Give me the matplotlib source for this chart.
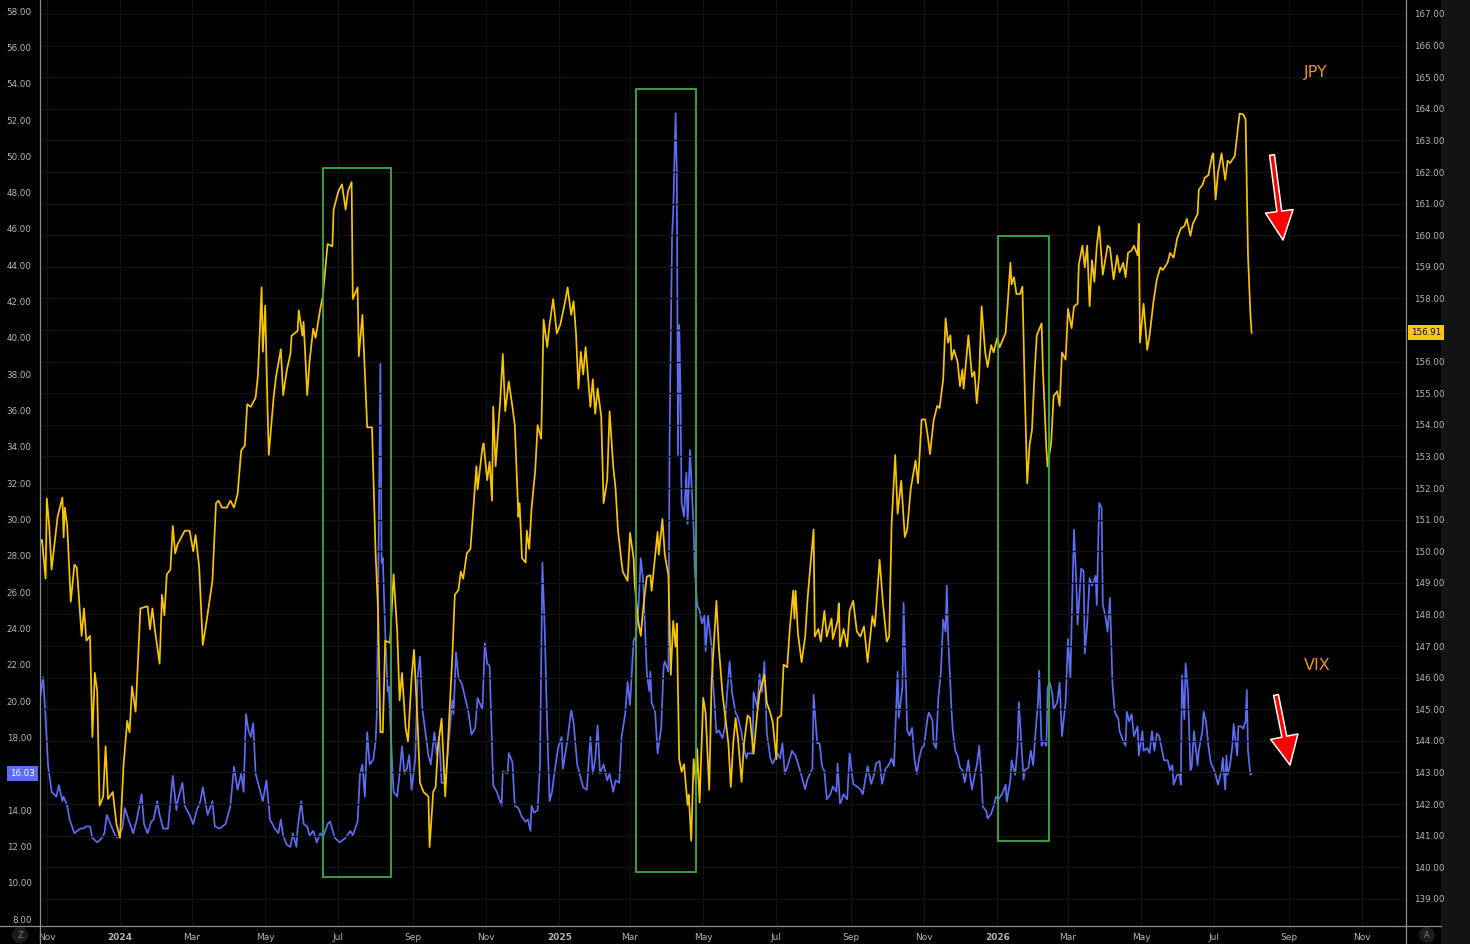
import matplotlib
matplotlib.use("Agg")
import matplotlib.pyplot as plt
import matplotlib.dates as mdates
from matplotlib.patches import Rectangle, FancyArrowPatch, Circle
from matplotlib.lines import Line2D
import numpy as np
import pandas as pd

# ---- USD/JPY (right axis) ----
jpy_dates = [
    "2023-10-26", "2023-10-28", "2023-10-31", "2023-11-01", "2023-11-03", "2023-11-05", "2023-11-10", "2023-11-14",
    "2023-11-15", "2023-11-16", "2023-11-18", "2023-11-21", "2023-11-24", "2023-11-26", "2023-11-30", "2023-12-02",
    "2023-12-04", "2023-12-07", "2023-12-09", "2023-12-11", "2023-12-13", "2023-12-15", "2023-12-18", "2023-12-20",
    "2023-12-22", "2023-12-26", "2023-12-29", "2024-01-01", "2024-01-04", "2024-01-07", "2024-01-09", "2024-01-11",
    "2024-01-14", "2024-01-18", "2024-01-24", "2024-01-26", "2024-01-28", "2024-01-30", "2024-02-03", "2024-02-05",
    "2024-02-07", "2024-02-09", "2024-02-12", "2024-02-14", "2024-02-16", "2024-02-18", "2024-02-24", "2024-02-28",
    "2024-03-02", "2024-03-04", "2024-03-07", "2024-03-10", "2024-03-13", "2024-03-18", "2024-03-21", "2024-03-23",
    "2024-03-26", "2024-03-30", "2024-04-02", "2024-04-05", "2024-04-08", "2024-04-11", "2024-04-14", "2024-04-16",
    "2024-04-19", "2024-04-23", "2024-04-25", "2024-04-28", "2024-04-29", "2024-05-01", "2024-05-03", "2024-05-04",
    "2024-05-08", "2024-05-10", "2024-05-14", "2024-05-16", "2024-05-19", "2024-05-22", "2024-05-23", "2024-05-28",
    "2024-05-29", "2024-06-01", "2024-06-02", "2024-06-05", "2024-06-07", "2024-06-10", "2024-06-12", "2024-06-16",
    "2024-06-18", "2024-06-22", "2024-06-26", "2024-06-27", "2024-07-01", "2024-07-04", "2024-07-07", "2024-07-09",
    "2024-07-12", "2024-07-13", "2024-07-17", "2024-07-18", "2024-07-21", "2024-07-25", "2024-07-29", "2024-08-01",
    "2024-08-03", "2024-08-05", "2024-08-07", "2024-08-09", "2024-08-13", "2024-08-16", "2024-08-19", "2024-08-21",
    "2024-08-23", "2024-08-26", "2024-08-28", "2024-08-31", "2024-09-02", "2024-09-05", "2024-09-07", "2024-09-10",
    "2024-09-14", "2024-09-15", "2024-09-18", "2024-09-20", "2024-09-22", "2024-09-25", "2024-09-28", "2024-09-30",
    "2024-10-04", "2024-10-06", "2024-10-09", "2024-10-11", "2024-10-13", "2024-10-16", "2024-10-19", "2024-10-21",
    "2024-10-24", "2024-10-25", "2024-10-29", "2024-10-30", "2024-11-02", "2024-11-04", "2024-11-06", "2024-11-07",
    "2024-11-09", "2024-11-13", "2024-11-15", "2024-11-17", "2024-11-20", "2024-11-23", "2024-11-25", "2024-11-28",
    "2024-11-29", "2024-12-01", "2024-12-04", "2024-12-05", "2024-12-07", "2024-12-09", "2024-12-12", "2024-12-14",
    "2024-12-17", "2024-12-19", "2024-12-22", "2024-12-24", "2024-12-27", "2024-12-30", "2025-01-02", "2025-01-06",
    "2025-01-08", "2025-01-11", "2025-01-13", "2025-01-15", "2025-01-17", "2025-01-19", "2025-01-21", "2025-01-23",
    "2025-01-27", "2025-01-29", "2025-01-31", "2025-02-02", "2025-02-05", "2025-02-07", "2025-02-10", "2025-02-12",
    "2025-02-15", "2025-02-17", "2025-02-19", "2025-02-22", "2025-02-23", "2025-02-27", "2025-03-01", "2025-03-04",
    "2025-03-05", "2025-03-08", "2025-03-10", "2025-03-12", "2025-03-15", "2025-03-18", "2025-03-19", "2025-03-24",
    "2025-03-25", "2025-03-28", "2025-03-30", "2025-04-02", "2025-04-04", "2025-04-06", "2025-04-08", "2025-04-09",
    "2025-04-11", "2025-04-13", "2025-04-15", "2025-04-18", "2025-04-19", "2025-04-21", "2025-04-23", "2025-04-25",
    "2025-04-26", "2025-04-28", "2025-05-01", "2025-05-03", "2025-05-06", "2025-05-08", "2025-05-12", "2025-05-14",
    "2025-05-17", "2025-05-19", "2025-05-22", "2025-05-24", "2025-05-26", "2025-05-28", "2025-05-30", "2025-06-02",
    "2025-06-04", "2025-06-07", "2025-06-09", "2025-06-12", "2025-06-15", "2025-06-17", "2025-06-21", "2025-06-23",
    "2025-06-26", "2025-06-28", "2025-07-01", "2025-07-02", "2025-07-05", "2025-07-07", "2025-07-10", "2025-07-12",
    "2025-07-15", "2025-07-16", "2025-07-17", "2025-07-19", "2025-07-22", "2025-07-25", "2025-07-27", "2025-07-29",
    "2025-08-01", "2025-08-02", "2025-08-05", "2025-08-07", "2025-08-10", "2025-08-12", "2025-08-16", "2025-08-17",
    "2025-08-21", "2025-08-22", "2025-08-23", "2025-08-26", "2025-08-29", "2025-08-31", "2025-09-03", "2025-09-06",
    "2025-09-09", "2025-09-12", "2025-09-15", "2025-09-19", "2025-09-21", "2025-09-25", "2025-09-28", "2025-10-01",
    "2025-10-03", "2025-10-05", "2025-10-08", "2025-10-10", "2025-10-13", "2025-10-16", "2025-10-18", "2025-10-21",
    "2025-10-25", "2025-10-27", "2025-10-30", "2025-11-02", "2025-11-04", "2025-11-06", "2025-11-09", "2025-11-12",
    "2025-11-14", "2025-11-17", "2025-11-19", "2025-11-21", "2025-11-23", "2025-11-24", "2025-11-26", "2025-11-29",
    "2025-12-01", "2025-12-03", "2025-12-04", "2025-12-08", "2025-12-11", "2025-12-13", "2025-12-15", "2025-12-17",
    "2025-12-19", "2025-12-22", "2025-12-24", "2025-12-27", "2025-12-29", "2026-01-01", "2026-01-03", "2026-01-08",
    "2026-01-10", "2026-01-12", "2026-01-13", "2026-01-15", "2026-01-17", "2026-01-20", "2026-01-22", "2026-01-24",
    "2026-01-26", "2026-01-28", "2026-01-30", "2026-02-01", "2026-02-03", "2026-02-07", "2026-02-08", "2026-02-11",
    "2026-02-12", "2026-02-15", "2026-02-17", "2026-02-20", "2026-02-22", "2026-02-24", "2026-02-27", "2026-03-01",
    "2026-03-04", "2026-03-06", "2026-03-09", "2026-03-10", "2026-03-13", "2026-03-15", "2026-03-17", "2026-03-19",
    "2026-03-21", "2026-03-23", "2026-03-25", "2026-03-27", "2026-03-30", "2026-04-03", "2026-04-05", "2026-04-08",
    "2026-04-11", "2026-04-13", "2026-04-16", "2026-04-18", "2026-04-20", "2026-04-23", "2026-04-25", "2026-04-28",
    "2026-04-29", "2026-04-30", "2026-05-03", "2026-05-06", "2026-05-08", "2026-05-11", "2026-05-14", "2026-05-17",
    "2026-05-19", "2026-05-23", "2026-05-25", "2026-05-28", "2026-05-31", "2026-06-03", "2026-06-06", "2026-06-08",
    "2026-06-11", "2026-06-13", "2026-06-17", "2026-06-18", "2026-06-21", "2026-06-23", "2026-06-26", "2026-06-29",
    "2026-06-30", "2026-07-02", "2026-07-04", "2026-07-07", "2026-07-10", "2026-07-12", "2026-07-14", "2026-07-18",
    "2026-07-21", "2026-07-22", "2026-07-25", "2026-07-27", "2026-07-29", "2026-07-31", "2026-08-01",
]
jpy_vals = [
    150.22, 150.36, 149.13, 151.67, 150.80, 149.42, 151.09, 151.70,
    150.44, 151.38, 150.80, 148.40, 149.57, 149.49, 147.32, 148.19,
    147.17, 147.32, 144.12, 146.15, 145.57, 141.95, 142.24, 143.83,
    142.16, 142.38, 141.37, 140.93, 143.25, 144.63, 144.27, 145.72,
    144.92, 148.19, 148.26, 147.53, 148.19, 147.53, 146.44, 148.62,
    147.97, 149.27, 149.42, 150.80, 149.93, 150.22, 150.65, 150.65,
    150.00, 150.51, 149.49, 147.03, 147.75, 149.06, 151.52, 151.60,
    151.38, 151.38, 151.60, 151.38, 151.81, 153.19, 153.34, 154.65,
    154.57, 154.86, 155.59, 158.35, 156.31, 157.77, 154.43, 153.05,
    154.86, 155.52, 156.39, 154.94, 155.73, 156.24, 156.82, 156.97,
    157.62, 156.82, 157.26, 154.94, 156.02, 157.04, 156.75, 157.69,
    158.06, 159.72, 159.65, 160.81, 161.39, 161.61, 160.81, 161.39,
    161.68, 157.98, 158.35, 156.17, 157.48, 153.92, 153.92, 149.93,
    148.19, 144.27, 144.27, 147.17, 147.10, 149.27, 147.46, 145.28,
    146.15, 144.41, 143.98, 146.01, 146.88, 144.56, 142.67, 142.38,
    142.24, 140.64, 142.38, 142.53, 143.83, 144.70, 142.24, 143.69,
    146.73, 148.62, 148.77, 149.35, 149.13, 149.93, 150.07, 151.09,
    152.69, 151.96, 153.27, 153.41, 152.25, 152.83, 151.60, 154.57,
    152.69, 154.86, 156.24, 154.43, 155.37, 154.57, 153.99, 151.09,
    151.52, 149.78, 149.64, 150.65, 150.07, 151.38, 152.54, 153.99,
    153.56, 157.33, 156.46, 157.18, 157.98, 156.89, 157.18, 157.91,
    158.35, 157.48, 157.91, 156.89, 155.15, 156.31, 155.59, 156.46,
    154.57, 155.44, 154.35, 155.15, 154.28, 151.52, 152.25, 154.43,
    152.69, 151.96, 150.65, 149.64, 149.35, 149.06, 150.58, 149.78,
    148.91, 147.75, 147.32, 148.19, 149.20, 149.24, 148.75, 150.61,
    149.89, 151.02, 149.89, 149.24, 146.09, 147.79, 146.98, 147.71,
    143.42, 143.02, 143.26, 141.97, 142.29, 140.84, 143.42, 142.62,
    143.75, 142.05, 145.36, 144.88, 142.45, 145.85, 148.43, 146.98,
    145.52, 144.88, 143.91, 142.54, 143.91, 144.72, 144.07, 142.70,
    143.91, 144.80, 144.72, 143.59, 144.88, 145.52, 146.09, 145.20,
    144.88, 144.56, 143.42, 144.72, 144.80, 146.41, 146.33, 147.46,
    148.75, 147.87, 148.75, 147.38, 146.49, 147.30, 148.51, 149.40,
    150.69, 147.30, 147.54, 147.14, 148.11, 147.30, 147.87, 147.22,
    147.79, 148.35, 146.98, 147.54, 146.98, 148.11, 148.43, 147.46,
    147.30, 147.62, 146.49, 147.95, 147.62, 149.73, 148.27, 147.14,
    147.30, 150.86, 153.04, 151.18, 152.23, 150.45, 150.69, 151.99,
    152.87, 152.15, 154.17, 154.17, 153.68, 153.07, 154.14, 154.60,
    154.53, 155.45, 157.37, 156.60, 156.83, 156.06, 156.37, 155.99,
    155.22, 155.75, 155.14, 156.83, 155.52, 155.68, 154.68, 155.60,
    157.75, 156.29, 155.83, 156.52, 156.29, 156.75, 156.45, 156.91,
    157.98, 159.13, 158.44, 158.67, 158.14, 158.14, 158.37, 155.06,
    152.15, 153.37, 153.84, 155.52, 156.83, 157.21, 155.83, 153.22,
    152.68, 153.45, 154.91, 155.06, 154.60, 156.29, 156.06, 157.67,
    157.06, 157.75, 157.83, 159.06, 159.67, 158.98, 159.67, 157.75,
    159.21, 158.52, 159.67, 160.29, 158.75, 159.67, 159.60, 158.60,
    159.36, 158.83, 159.13, 158.67, 159.44, 159.52, 159.67, 159.36,
    160.36, 156.60, 157.83, 156.37, 156.83, 157.83, 158.60, 158.98,
    158.90, 159.13, 159.44, 159.29, 159.90, 160.21, 160.29, 160.52,
    159.98, 160.36, 160.67, 161.44, 161.59, 161.82, 161.90, 162.51,
    162.59, 161.13, 161.98, 162.59, 161.75, 162.36, 162.28, 162.51,
    163.51, 163.85, 163.82, 163.67, 159.36, 157.52, 156.91,
]

# ---- VIX (left axis) ----
vix_dates = [
    "2023-10-25", "2023-10-29", "2023-10-31", "2023-11-02", "2023-11-05", "2023-11-09", "2023-11-11", "2023-11-14",
    "2023-11-15", "2023-11-18", "2023-11-20", "2023-11-24", "2023-11-29", "2023-12-01", "2023-12-04", "2023-12-07",
    "2023-12-09", "2023-12-13", "2023-12-17", "2023-12-19", "2023-12-21", "2023-12-24", "2023-12-28", "2023-12-30",
    "2024-01-03", "2024-01-05", "2024-01-08", "2024-01-12", "2024-01-15", "2024-01-19", "2024-01-21", "2024-01-24",
    "2024-01-27", "2024-01-29", "2024-02-01", "2024-02-03", "2024-02-06", "2024-02-10", "2024-02-14", "2024-02-17",
    "2024-02-18", "2024-02-22", "2024-02-24", "2024-02-28", "2024-03-02", "2024-03-05", "2024-03-08", "2024-03-10",
    "2024-03-14", "2024-03-18", "2024-03-20", "2024-03-24", "2024-03-29", "2024-04-02", "2024-04-05", "2024-04-08",
    "2024-04-11", "2024-04-13", "2024-04-15", "2024-04-17", "2024-04-19", "2024-04-21", "2024-04-23", "2024-04-26",
    "2024-04-29", "2024-05-02", "2024-05-05", "2024-05-09", "2024-05-12", "2024-05-14", "2024-05-16", "2024-05-19",
    "2024-05-22", "2024-05-24", "2024-05-27", "2024-05-28", "2024-05-31", "2024-06-02", "2024-06-05", "2024-06-07",
    "2024-06-10", "2024-06-13", "2024-06-16", "2024-06-18", "2024-06-22", "2024-06-24", "2024-06-28", "2024-07-02",
    "2024-07-07", "2024-07-11", "2024-07-13", "2024-07-17", "2024-07-19", "2024-07-21", "2024-07-23", "2024-07-25",
    "2024-07-27", "2024-07-30", "2024-08-01", "2024-08-02", "2024-08-03", "2024-08-05", "2024-08-06", "2024-08-07",
    "2024-08-09", "2024-08-11", "2024-08-12", "2024-08-15", "2024-08-16", "2024-08-19", "2024-08-21", "2024-08-23",
    "2024-08-25", "2024-08-27", "2024-08-29", "2024-08-31", "2024-09-03", "2024-09-05", "2024-09-07", "2024-09-09",
    "2024-09-11", "2024-09-14", "2024-09-16", "2024-09-19", "2024-09-21", "2024-09-23", "2024-09-25", "2024-09-28",
    "2024-09-30", "2024-10-04", "2024-10-05", "2024-10-07", "2024-10-09", "2024-10-12", "2024-10-15", "2024-10-17",
    "2024-10-20", "2024-10-23", "2024-10-25", "2024-10-29", "2024-10-31", "2024-11-02", "2024-11-04", "2024-11-07",
    "2024-11-10", "2024-11-14", "2024-11-15", "2024-11-19", "2024-11-20", "2024-11-23", "2024-11-25", "2024-11-28",
    "2024-12-01", "2024-12-04", "2024-12-06", "2024-12-08", "2024-12-09", "2024-12-11", "2024-12-14", "2024-12-16",
    "2024-12-18", "2024-12-20", "2024-12-22", "2024-12-24", "2024-12-26", "2024-12-29", "2024-12-31", "2025-01-03",
    "2025-01-04", "2025-01-08", "2025-01-11", "2025-01-13", "2025-01-16", "2025-01-18", "2025-01-21", "2025-01-24",
    "2025-01-27", "2025-01-29", "2025-01-31", "2025-02-02", "2025-02-04", "2025-02-07", "2025-02-10", "2025-02-12",
    "2025-02-15", "2025-02-17", "2025-02-20", "2025-02-22", "2025-02-25", "2025-02-27", "2025-03-01", "2025-03-04",
    "2025-03-06", "2025-03-08", "2025-03-10", "2025-03-12", "2025-03-15", "2025-03-17", "2025-03-18", "2025-03-19",
    "2025-03-22", "2025-03-24", "2025-03-27", "2025-03-29", "2025-03-30", "2025-04-02", "2025-04-03", "2025-04-05",
    "2025-04-06", "2025-04-08", "2025-04-09", "2025-04-10", "2025-04-11", "2025-04-12", "2025-04-13", "2025-04-15",
    "2025-04-17", "2025-04-18", "2025-04-20", "2025-04-23", "2025-04-24", "2025-04-26", "2025-04-28", "2025-04-30",
    "2025-05-02", "2025-05-03", "2025-05-05", "2025-05-08", "2025-05-09", "2025-05-12", "2025-05-14", "2025-05-17",
    "2025-05-19", "2025-05-21", "2025-05-23", "2025-05-25", "2025-05-28", "2025-05-30", "2025-06-02", "2025-06-03",
    "2025-06-06", "2025-06-07", "2025-06-11", "2025-06-12", "2025-06-15", "2025-06-17", "2025-06-19", "2025-06-21",
    "2025-06-23", "2025-06-26", "2025-06-28", "2025-07-02", "2025-07-04", "2025-07-06", "2025-07-08", "2025-07-11",
    "2025-07-14", "2025-07-17", "2025-07-19", "2025-07-22", "2025-07-25", "2025-07-27", "2025-07-31", "2025-08-01",
    "2025-08-04", "2025-08-06", "2025-08-08", "2025-08-10", "2025-08-12", "2025-08-15", "2025-08-17", "2025-08-20",
    "2025-08-21", "2025-08-23", "2025-08-26", "2025-08-29", "2025-08-31", "2025-09-03", "2025-09-06", "2025-09-09",
    "2025-09-11", "2025-09-15", "2025-09-18", "2025-09-20", "2025-09-22", "2025-09-25", "2025-09-27", "2025-09-30",
    "2025-10-02", "2025-10-05", "2025-10-07", "2025-10-10", "2025-10-11", "2025-10-14", "2025-10-15", "2025-10-18",
    "2025-10-20", "2025-10-22", "2025-10-24", "2025-10-26", "2025-10-28", "2025-10-30", "2025-11-01", "2025-11-04",
    "2025-11-05", "2025-11-08", "2025-11-09", "2025-11-11", "2025-11-13", "2025-11-15", "2025-11-17", "2025-11-19",
    "2025-11-20", "2025-11-21", "2025-11-24", "2025-11-25", "2025-11-27", "2025-11-29", "2025-12-01", "2025-12-03",
    "2025-12-05", "2025-12-08", "2025-12-09", "2025-12-11", "2025-12-14", "2025-12-15", "2025-12-17", "2025-12-19",
    "2025-12-20", "2025-12-23", "2025-12-24", "2025-12-27", "2025-12-29", "2025-12-31", "2026-01-02", "2026-01-05",
    "2026-01-08", "2026-01-09", "2026-01-12", "2026-01-13", "2026-01-16", "2026-01-18", "2026-01-19", "2026-01-21",
    "2026-01-23", "2026-01-24", "2026-01-27", "2026-01-29", "2026-01-31", "2026-02-02", "2026-02-04", "2026-02-05",
    "2026-02-07", "2026-02-08", "2026-02-11", "2026-02-12", "2026-02-14", "2026-02-16", "2026-02-17", "2026-02-20",
    "2026-02-22", "2026-02-24", "2026-02-27", "2026-03-01", "2026-03-03", "2026-03-04", "2026-03-06", "2026-03-08",
    "2026-03-09", "2026-03-12", "2026-03-14", "2026-03-15", "2026-03-17", "2026-03-19", "2026-03-21", "2026-03-24",
    "2026-03-25", "2026-03-27", "2026-03-29", "2026-03-30", "2026-04-01", "2026-04-03", "2026-04-05", "2026-04-07",
    "2026-04-09", "2026-04-12", "2026-04-13", "2026-04-16", "2026-04-18", "2026-04-19", "2026-04-21", "2026-04-23",
    "2026-04-25", "2026-04-28", "2026-04-29", "2026-05-02", "2026-05-03", "2026-05-06", "2026-05-08", "2026-05-10",
    "2026-05-12", "2026-05-14", "2026-05-16", "2026-05-18", "2026-05-20", "2026-05-23", "2026-05-25", "2026-05-27",
    "2026-05-28", "2026-05-31", "2026-06-02", "2026-06-03", "2026-06-04", "2026-06-06", "2026-06-07", "2026-06-09",
    "2026-06-11", "2026-06-12", "2026-06-14", "2026-06-17", "2026-06-18", "2026-06-21", "2026-06-22", "2026-06-24",
    "2026-06-26", "2026-06-28", "2026-06-30", "2026-07-02", "2026-07-04", "2026-07-07", "2026-07-08", "2026-07-10",
    "2026-07-11", "2026-07-12", "2026-07-14", "2026-07-16", "2026-07-17", "2026-07-20", "2026-07-21", "2026-07-23",
    "2026-07-25", "2026-07-27", "2026-07-28", "2026-07-29", "2026-07-31", "2026-08-01",
]
vix_vals = [
    19.54, 21.31, 19.04, 16.51, 15.00, 14.74, 15.37, 14.49,
    14.74, 14.24, 13.48, 12.72, 12.98, 12.98, 13.10, 13.10,
    12.47, 12.22, 12.47, 12.72, 13.73, 13.23, 12.60, 12.47,
    12.98, 14.11, 13.48, 12.72, 13.48, 14.87, 13.23, 12.72,
    13.36, 13.48, 14.49, 13.73, 12.98, 12.98, 15.88, 13.99,
    14.49, 15.50, 14.24, 13.73, 13.23, 13.99, 14.49, 15.25,
    13.73, 14.49, 13.10, 12.98, 13.23, 14.24, 16.39, 15.12,
    16.01, 15.00, 19.29, 18.41, 18.03, 18.78, 16.01, 15.25,
    14.49, 15.63, 13.48, 12.98, 12.72, 13.48, 12.60, 12.09,
    11.97, 12.72, 11.97, 12.98, 14.49, 13.23, 13.10, 12.60,
    12.85, 12.22, 12.72, 12.47, 13.23, 13.36, 12.47, 12.22,
    12.47, 12.85, 12.60, 13.36, 16.01, 16.51, 14.74, 18.28,
    16.51, 16.77, 17.77, 19.29, 25.10, 38.61, 27.62, 27.87,
    23.83, 20.55, 20.80, 16.26, 15.00, 14.74, 16.01, 17.52,
    16.01, 16.26, 17.02, 15.12, 16.77, 21.31, 22.45, 19.54,
    18.53, 17.02, 16.51, 18.28, 17.02, 18.03, 15.50, 15.50,
    17.02, 20.05, 19.29, 22.70, 21.31, 20.93, 20.05, 19.54,
    18.15, 18.53, 20.17, 19.54, 23.20, 22.07, 21.94, 15.37,
    15.00, 14.24, 16.13, 16.01, 17.14, 16.64, 14.24, 14.11,
    13.61, 13.36, 13.48, 12.85, 14.24, 13.86, 13.99, 16.51,
    27.62, 23.83, 18.53, 14.49, 15.00, 16.51, 17.40, 18.03,
    16.26, 17.90, 19.54, 18.78, 16.51, 16.01, 15.25, 15.12,
    18.03, 16.01, 16.77, 18.66, 16.01, 16.51, 15.63, 16.01,
    15.00, 15.63, 15.50, 18.03, 19.29, 21.06, 19.79, 23.33,
    23.58, 25.10, 27.87, 26.61, 21.56, 20.55, 21.62, 19.93,
    19.37, 17.12, 18.53, 21.90, 22.18, 21.62, 34.54, 45.49,
    46.90, 52.37, 49.14, 33.55, 40.72, 37.35, 30.89, 30.18,
    32.57, 29.76, 33.83, 29.48, 27.23, 25.27, 24.99, 24.28,
    24.71, 22.74, 24.71, 23.02, 21.34, 18.25, 18.39, 17.96,
    18.53, 20.49, 22.18, 20.49, 19.37, 19.09, 18.25, 17.68,
    16.84, 17.12, 17.12, 20.49, 19.65, 21.48, 20.49, 22.18,
    18.25, 16.84, 16.56, 17.12, 16.84, 17.68, 16.00, 16.56,
    17.26, 16.98, 16.56, 15.86, 15.15, 15.72, 16.28, 20.35,
    17.68, 17.68, 16.42, 16.14, 14.59, 14.87, 15.30, 15.01,
    16.56, 14.31, 14.87, 14.59, 17.12, 15.44, 15.30, 15.15,
    14.87, 16.42, 15.44, 15.86, 16.56, 16.70, 15.44, 16.28,
    16.42, 16.84, 16.42, 21.62, 19.09, 20.77, 25.41, 18.39,
    18.10, 18.53, 16.84, 16.00, 16.84, 17.40, 17.54, 19.09,
    19.37, 18.95, 17.68, 17.40, 20.21, 21.55, 24.49, 23.82,
    26.36, 23.69, 19.41, 18.34, 17.27, 17.00, 16.34, 16.20,
    15.53, 16.74, 16.07, 15.13, 16.20, 16.47, 17.54, 15.67,
    14.20, 13.93, 13.53, 13.80, 14.20, 14.73, 14.60, 14.87,
    15.40, 14.46, 15.67, 16.74, 15.94, 17.54, 19.94, 17.81,
    15.67, 16.20, 16.34, 17.27, 16.47, 18.34, 19.94, 21.68,
    17.54, 17.81, 17.54, 20.75, 21.01, 20.35, 19.54, 19.94,
    21.01, 18.07, 19.94, 23.42, 21.28, 24.22, 29.44, 26.36,
    24.22, 27.30, 27.16, 22.62, 24.22, 26.76, 26.36, 26.90,
    25.29, 30.91, 30.64, 25.29, 24.76, 23.82, 25.69, 21.01,
    19.41, 19.01, 18.34, 17.81, 17.54, 19.41, 18.88, 19.28,
    18.07, 18.61, 17.00, 18.34, 17.27, 17.40, 17.14, 18.34,
    17.27, 18.21, 18.07, 17.40, 16.74, 16.74, 16.20, 16.47,
    15.40, 15.94, 15.94, 15.40, 21.42, 19.01, 22.08, 20.48,
    16.20, 16.34, 18.34, 16.47, 17.27, 18.34, 19.41, 18.88,
    17.54, 16.60, 16.34, 15.94, 15.40, 16.20, 16.87, 15.13,
    17.00, 15.94, 16.47, 17.54, 18.74, 17.00, 18.61, 18.61,
    18.48, 18.88, 20.62, 17.27, 15.94, 16.03,
]

# highlighted windows: start, end, low, high (VIX scale)
box_start = ["2024-06-18", "2025-03-06", "2026-01-02"]
box_end = ["2024-08-14", "2025-04-25", "2026-02-13"]
box_low = [10.31, 10.59, 12.30]
box_high = [49.35, 53.70, 45.61]

vix_ticks = np.arange(8, 59, 2)
jpy_ticks = np.arange(139, 168, 1)
month_ticks = pd.date_range("2023-11-01", "2026-11-01", freq="2MS")

BG = "#000000"
TXT = "#b2b5be"
GRID = "#131313"
AXL = "#8a8d94"
VIX_C = "#5b6cf5"
JPY_C = "#f9c500"
LBL_C = "#f0901e"
BOX_C = "#3daa47"

W, H = 1470, 944
fig = plt.figure(figsize=(W / 100, H / 100), dpi=100, facecolor=BG)
# dark strip at the far right
fig.add_artist(Rectangle((1441 / W, 0), 29 / W, 1, transform=fig.transFigure,
                         facecolor="#131313", edgecolor="none", zorder=0))

ax = fig.add_axes([40 / W, 18 / H, 1366 / W, 926 / H])
ax.set_facecolor(BG)
ax2 = ax.twinx()

vd = pd.to_datetime(vix_dates)
jd = pd.to_datetime(jpy_dates)
ax.plot(vd, vix_vals, color=VIX_C, lw=1.25)
ax2.plot(jd, jpy_vals, color=JPY_C, lw=1.25)

ax.set_xlim(pd.Timestamp("2023-10-26 08:00"), pd.Timestamp("2026-12-07 16:00"))
ax.set_ylim(7.615, 58.61)
ax2.set_ylim(138.14, 167.443)

# tick labels hidden under the last-value tags are left blank, as in the source
vix_last = vix_vals[-1]
jpy_last = jpy_vals[-1]
ax.set_yticks(vix_ticks)
ax.set_yticklabels(["" if abs(v - vix_last) < 0.5 else f"{v:.2f}" for v in vix_ticks])
ax2.set_yticks(jpy_ticks)
ax2.set_yticklabels(["" if abs(v - jpy_last) < 0.3 else f"{v:.2f}" for v in jpy_ticks])

ax.set_xticks(month_ticks)
ax.set_xticklabels([str(d.year) if d.month == 1 else d.strftime("%b") for d in month_ticks])

for a in (ax, ax2):
    for s in a.spines.values():
        s.set_visible(False)
ax.tick_params(axis="y", length=0, pad=6, labelsize=6.3, labelcolor=TXT)
ax2.tick_params(axis="y", length=0, pad=6, labelsize=6.3, labelcolor=TXT)
ax.tick_params(axis="x", length=0, pad=5, labelsize=6.5, labelcolor=TXT)
for lab in ax.get_xticklabels():
    if lab.get_text().isdigit():
        lab.set_fontweight("bold")

ax.grid(axis="x", color=GRID, lw=0.9)
ax2.grid(axis="y", color=GRID, lw=0.9)
ax.set_axisbelow(True)
ax2.set_axisbelow(True)

# highlighted windows
for s, e, lo, hi in zip(box_start, box_end, box_low, box_high):
    x0 = mdates.date2num(pd.Timestamp(s))
    x1 = mdates.date2num(pd.Timestamp(e))
    ax2.add_patch(Rectangle((x0, lo), x1 - x0, hi - lo, transform=ax.transData,
                            fill=False, edgecolor=BOX_C, lw=1.3, zorder=5))

# last value tags
ax.annotate(f"{vix_last:.2f}", xy=(0, vix_last), xycoords=("axes fraction", "data"),
            xytext=(-3.5, 0), textcoords="offset points", ha="right", va="center",
            fontsize=6.3, color="white", annotation_clip=False,
            bbox=dict(boxstyle="square,pad=0.35", fc=VIX_C, ec="none"))
ax2.annotate(f"{jpy_last:.2f}", xy=(1, jpy_last), xycoords=("axes fraction", "data"),
             xytext=(3.5, 0), textcoords="offset points", ha="left", va="center",
             fontsize=6.3, color="#111111", annotation_clip=False,
             bbox=dict(boxstyle="square,pad=0.35", fc="#f5c518", ec="none"))

# frame lines (TradingView-like scales)
fig.add_artist(Line2D([0, 1441 / W], [18 / H, 18 / H], transform=fig.transFigure, color=AXL, lw=0.9))
fig.add_artist(Line2D([40 / W, 40 / W], [0, 1], transform=fig.transFigure, color=AXL, lw=0.9))
fig.add_artist(Line2D([1406 / W, 1406 / W], [0, 1], transform=fig.transFigure, color=AXL, lw=0.9))

# corner badges
for cx, letter in ((20, "Z"), (1427, "A")):
    fig.add_artist(Circle((cx, 9), 8, transform=None, facecolor="#1c1c1c", edgecolor="none"))
    fig.text(cx / W, 9 / H, letter, color="#777a80", fontsize=6, ha="center", va="center")

# labels and arrows
fig.text(1316 / W, 1 - 72 / H, "JPY", color=LBL_C, fontsize=11.5, ha="center", va="center")
fig.text(1317 / W, 1 - 666 / H, "VIX", color=LBL_C, fontsize=11.5, ha="center", va="center")

arrow_style = "simple,head_width=1.25,head_length=1.3,tail_width=0.22"
for (x0, y0), (x1, y1) in (((1272, 155), (1283, 240)), ((1276, 695), (1290, 765))):
    fig.add_artist(FancyArrowPatch((x0 / W, 1 - y0 / H), (x1 / W, 1 - y1 / H),
                                   transform=fig.transFigure, arrowstyle=arrow_style,
                                   mutation_scale=16, facecolor="#ff0000", edgecolor="white",
                                   lw=1.1, shrinkA=0, shrinkB=0, zorder=10))

fig.savefig("out.png", dpi=100, facecolor=BG)
